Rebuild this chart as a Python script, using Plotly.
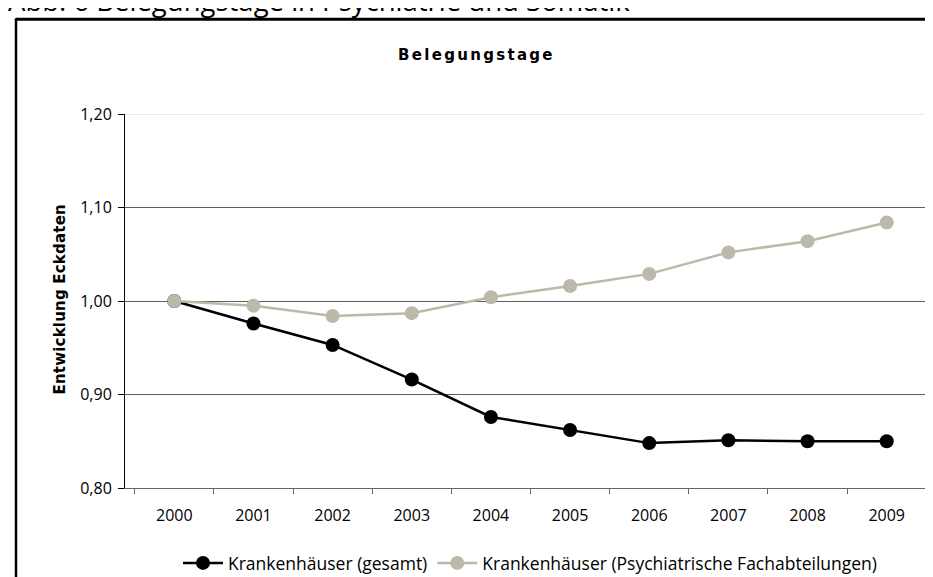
import plotly.graph_objects as go

years = ["2000", "2001", "2002", "2003", "2004", "2005", "2006", "2007", "2008", "2009"]
gesamt = [1.000, 0.976, 0.953, 0.916, 0.876, 0.862, 0.848, 0.851, 0.850, 0.850]
psych = [1.000, 0.995, 0.984, 0.987, 1.004, 1.016, 1.029, 1.052, 1.064, 1.084]
name_gesamt = "Krankenhäuser (gesamt)"
name_psych = "Krankenhäuser (Psychiatrische Fachabteilungen)"
chart_title = "Belegungstage"
page_title = "Abb. 6 Belegungstage in Psychiatrie und Somatik"
y_title = "Entwicklung Eckdaten"

FONT = "Open Sans"
GREY = "#BDB9AA"

fig = go.Figure()
fig.add_trace(go.Scatter(x=years, y=gesamt, name=name_gesamt, mode="lines+markers",
                         line=dict(color="black", width=2.5),
                         marker=dict(color="black", size=14)))
fig.add_trace(go.Scatter(x=years, y=psych, name=name_psych, mode="lines+markers",
                         line=dict(color=GREY, width=2.5),
                         marker=dict(color=GREY, size=14)))

L, R, T, B = 117, 5, 106, 96
W, H = 933, 577
pw, ph = W - L - R, H - T - B

def px(x):
    return (x - L) / pw

def py(y):
    return (H - B - y) / ph

fig.update_layout(
    width=W, height=H,
    margin=dict(l=L, r=R, t=T, b=B),
    paper_bgcolor="white", plot_bgcolor="white",
    separators=",.",
    font=dict(family=FONT, size=16, color="black"),
    showlegend=True,
    legend=dict(orientation="h", x=0.5, xanchor="center", y=py(555), yanchor="middle",
                font=dict(family=FONT, size=17.5), itemwidth=40, traceorder="normal"),
    xaxis=dict(type="category", tickson="boundaries", ticks="outside", ticklen=5,
               tickcolor="#666666", showline=True, linecolor="#666666", linewidth=1,
               showgrid=False, tickfont=dict(family=FONT, size=16),
               ticklabelstandoff=13, fixedrange=True),
    yaxis=dict(range=[0.8, 1.2], dtick=0.1, tick0=0.8, tickformat=".2f",
               ticks="outside", ticklen=6, tickcolor="black", showline=True,
               linecolor="black", linewidth=1, showgrid=True, gridcolor="#5f5f5f",
               gridwidth=1, zeroline=False, tickfont=dict(family=FONT, size=16),
               ticklabelstandoff=3),
    annotations=[
        dict(text=page_title, xref="paper", yref="paper", x=px(-2), y=py(13),
             xanchor="left", yanchor="bottom", showarrow=False,
             font=dict(family=FONT, size=27.5, color="black")),
        dict(text="<b>" + chart_title + "</b>", xref="paper", yref="paper",
             x=px(468), y=py(47), xanchor="center", yanchor="middle", showarrow=False,
             font=dict(family="DejaVu Sans", size=15, color="black")),
        dict(text="<b>" + y_title + "</b>", xref="paper", yref="paper",
             x=px(52), y=py(292), xanchor="center", yanchor="middle", showarrow=False,
             textangle=-90, font=dict(family="DejaVu Sans", size=15, color="black")),
    ],
    shapes=[
        dict(type="line", xref="paper", yref="y", x0=0, x1=1, y0=1.2, y1=1.2,
             line=dict(color="#e3e3e3", width=1.5), layer="above"),
        dict(type="line", xref="paper", yref="paper", x0=px(8), x1=px(960),
             y0=py(11), y1=py(11), line=dict(color="black", width=3)),
        dict(type="line", xref="paper", yref="paper", x0=px(8), x1=px(8),
             y0=py(10), y1=py(620), line=dict(color="black", width=2.5)),
    ],
)

post_script = """
var gd = document.getElementById('{plot_id}');
function spaceText() {
  gd.querySelectorAll('.annotation-text').forEach(function (t) {
    var s = t.textContent;
    if (s === '%s') { t.style.letterSpacing = '2.3px'; }
    if (s === '%s') { t.style.letterSpacing = '0.2px'; }
  });
}
spaceText();
gd.on('plotly_afterplot', spaceText);
""" % (chart_title, y_title)

fig.write_html("out.html", post_script=post_script)
